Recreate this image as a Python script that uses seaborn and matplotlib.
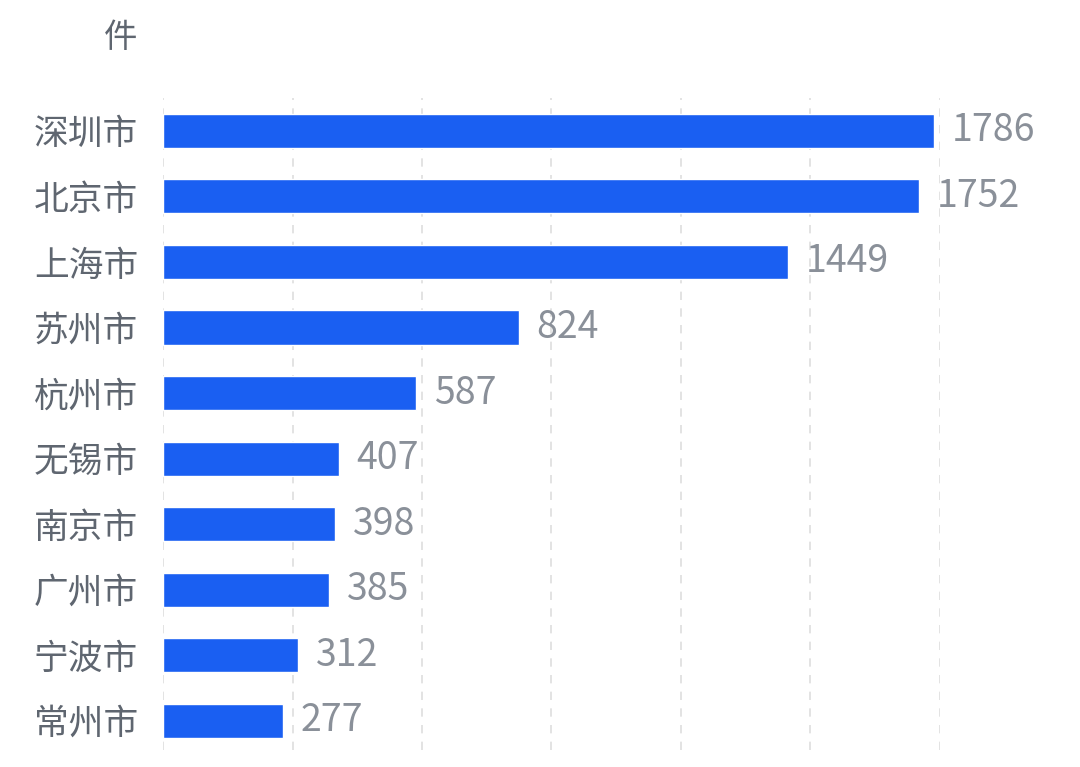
import pandas as pd
import seaborn as sns
import matplotlib.pyplot as plt

# data
cities = ['深圳市', '北京市', '上海市', '苏州市', '杭州市', '无锡市', '南京市', '广州市', '宁波市', '常州市']
counts = [1786, 1752, 1449, 824, 587, 407, 398, 385, 312, 277]
unit = '件'

df = pd.DataFrame({'city': cities, 'count': counts})

sns.set_theme(style='white')
plt.rcParams['font.family'] = ['Noto Sans CJK SC', 'DejaVu Sans']

fig = plt.figure(figsize=(10.8, 7.67), dpi=100)
ax = fig.add_axes([0.151, 0.022, 0.719, 0.850])

sns.barplot(data=df, x='count', y='city', orient='h', color='#1a5ff2',
            saturation=1, width=0.52, ax=ax, zorder=3)

ax.set_xlim(0, 1800)
ax.set_ylim(9.45, -0.5)
ax.set_xticks(range(0, 1801, 300))
ax.xaxis.grid(True, linestyle=(0, (5, 5)), color='#dedede', linewidth=1.2)
ax.yaxis.grid(False)
ax.set_xticklabels([])
ax.tick_params(axis='x', length=0)
ax.tick_params(axis='y', length=0, pad=18, labelsize=25, labelcolor='#5f6670')
ax.set_xlabel('')
ax.set_ylabel('')
for s in ax.spines.values():
    s.set_visible(False)

# value labels
for c in ax.containers:
    ax.bar_label(c, labels=[str(v) for v in counts], padding=13,
                 fontsize=27, color='#8a9099')

fig.text(121 / 1080, 1 - 37 / 767, unit, fontsize=24, color='#5f6670',
         ha='center', va='center')

plt.savefig('out.png', dpi=100)
